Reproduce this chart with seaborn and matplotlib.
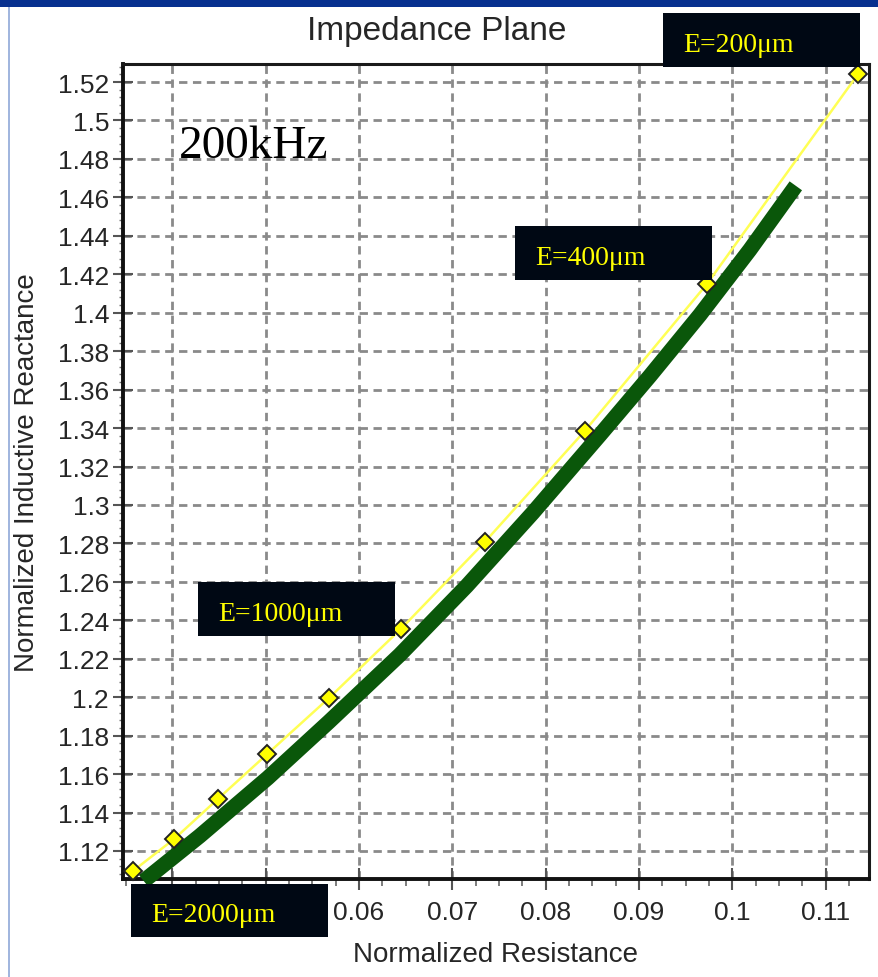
import matplotlib
matplotlib.use("Agg")
import matplotlib.pyplot as plt
from matplotlib.patches import Rectangle
from matplotlib.lines import Line2D
from matplotlib.ticker import FixedLocator, MultipleLocator, FixedFormatter
import seaborn as sns

resistance = [0.0358, 0.0402, 0.0449, 0.0502, 0.0568, 0.0645, 0.0735, 0.0842, 0.0973, 0.1135]
reactance = [1.1096, 1.1262, 1.1471, 1.1705, 1.1996, 1.2355, 1.2808, 1.3385, 1.4150, 1.5243]

# thick green curve
trend_r = [0.03695, 0.04295, 0.05024, 0.05677, 0.06438, 0.07156, 0.07863,
           0.08582, 0.09118, 0.09654, 0.10188, 0.10681]
trend_x = [1.1044, 1.1278, 1.1580, 1.1871, 1.2220, 1.2579, 1.2959,
           1.3364, 1.3671, 1.3989, 1.4327, 1.4660]

x_ticks = [0.04, 0.05, 0.06, 0.07, 0.08, 0.09, 0.10, 0.11]
# 0.04 and 0.05 sit under the E=2000 box in the original, so they are not visible
x_labels = ["", "", "0.06", "0.07", "0.08", "0.09", "0.1", "0.11"]
y_ticks = [1.12, 1.14, 1.16, 1.18, 1.20, 1.22, 1.24, 1.26, 1.28, 1.30, 1.32,
           1.34, 1.36, 1.38, 1.40, 1.42, 1.44, 1.46, 1.48, 1.50, 1.52]
y_labels = ["1.12", "1.14", "1.16", "1.18", "1.2", "1.22", "1.24", "1.26", "1.28", "1.3", "1.32",
            "1.34", "1.36", "1.38", "1.4", "1.42", "1.44", "1.46", "1.48", "1.5", "1.52"]

box_labels = ["E=200\u03bcm", "E=400\u03bcm", "E=1000\u03bcm", "E=2000\u03bcm"]
# box corners in pixels (left, top, right, bottom)
box_px = [(663, 14, 860, 68), (515, 227, 712, 281), (198, 583, 395, 637), (131, 885, 328, 938)]

W, H = 879, 978

sns.set_theme(style="ticks")
plt.rcParams['font.family'] = ['Liberation Sans', 'DejaVu Sans']

fig = plt.figure(figsize=(W / 100, H / 100), dpi=100, facecolor="white")
ax = fig.add_axes([123 / W, (H - 880) / H, 746 / W, 815 / H])
ax.set_facecolor("white")

sns.lineplot(x=trend_r, y=trend_x, ax=ax, color="#0a570a", linewidth=11,
             solid_capstyle="butt", solid_joinstyle="round",
             sort=False, estimator=None, clip_on=False, zorder=3)
sns.lineplot(x=resistance, y=reactance, ax=ax, color="#ffff55", linewidth=1.8,
             marker="D", markersize=9.5, markerfacecolor="#ffff00",
             markeredgecolor="#222222", markeredgewidth=1.4,
             sort=False, estimator=None, clip_on=False, zorder=4)

ax.set_xlim(0.03473, 0.11465)
ax.set_ylim(1.10543, 1.52937)

ax.xaxis.set_major_locator(FixedLocator(x_ticks))
ax.xaxis.set_major_formatter(FixedFormatter(x_labels))
ax.xaxis.set_minor_locator(MultipleLocator(0.0025))
ax.yaxis.set_major_locator(FixedLocator(y_ticks))
ax.yaxis.set_major_formatter(FixedFormatter(y_labels))
ax.yaxis.set_minor_locator(MultipleLocator(0.004))

ax.grid(True, which="major", color="#8a8a8a", linestyle=(0, (3, 2)), linewidth=2.0)
ax.set_axisbelow(True)

ax.tick_params(axis="x", which="major", direction="inout", length=16, width=1.5,
               color="#555555", labelsize=19, labelcolor="#262626", pad=7)
ax.tick_params(axis="x", which="minor", direction="out", length=5, width=1.2, color="#666666")
ax.tick_params(axis="y", which="major", direction="inout", length=14, width=1.5,
               color="#555555", labelsize=19, labelcolor="#262626", pad=3)
ax.tick_params(axis="y", which="minor", direction="out", length=3, width=1.0, color="#777777")

for side in ["left", "bottom"]:
    ax.spines[side].set_linewidth(2.8)
    ax.spines[side].set_color("#111111")
for side in ["top", "right"]:
    ax.spines[side].set_linewidth(2.2)
    ax.spines[side].set_color("#1a1a1a")

ax.set_xlabel("Normalized Resistance", fontsize=20, color="#262626", va="center")
ax.xaxis.set_label_coords(0.5, (880 - 955) / 815)
ax.set_ylabel("Normalized Inductive Reactance", fontsize=20, color="#262626", va="center")
ax.yaxis.set_label_coords((27 - 123) / 746, 0.5)

fig.text(437 / W, 1 - 31.5 / H, "Impedance Plane", ha="center", va="center",
         fontsize=24, color="#262626")

ax.text((179 - 123) / 746, (880 - 158) / 815, "200kHz", transform=ax.transAxes,
        ha="left", va="baseline", fontsize=34, color="black", family="Liberation Serif")

# black label boxes with yellow text
for lab, (l, t, r, b) in zip(box_labels, box_px):
    fig.patches.append(Rectangle((l / W, 1 - b / H), (r - l) / W, (b - t) / H,
                                 transform=fig.transFigure, facecolor="#000814",
                                 edgecolor="none", zorder=10))
    fig.text((l + 20) / W, 1 - (b - 16) / H, lab, ha="left", va="baseline",
             fontsize=20, color="#ffff00", family="Liberation Serif", zorder=11)

# frame decorations
fig.patches.append(Rectangle((0, 1 - 8 / H), 1, 8 / H, transform=fig.transFigure,
                             facecolor="#07308f", edgecolor="none", zorder=12))
fig.lines.append(Line2D([8.5 / W, 8.5 / W], [0, 1], transform=fig.transFigure,
                        color="#8fa8d8", linewidth=1.2, zorder=12))

fig.savefig("out.png", dpi=100)
